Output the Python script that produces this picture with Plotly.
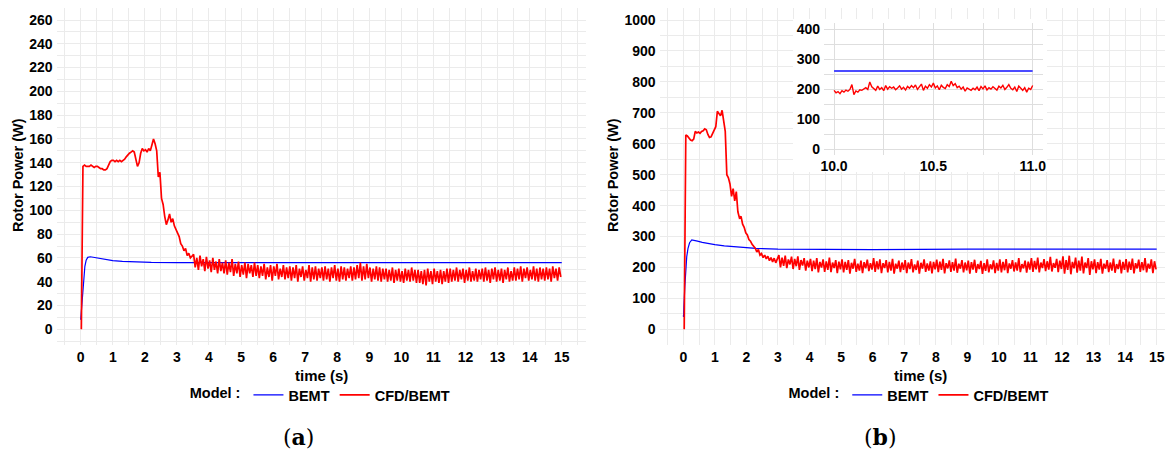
import numpy as np
import plotly.graph_objects as go

# ---------------- Panel (a) ----------------
bemt_a_t = [0, 0.03, 0.06, 0.09, 0.13, 0.17, 0.22, 0.3, 0.4, 0.6, 0.8, 1.0, 1.3, 1.7, 2.2, 3, 5, 10, 15]
bemt_a_p = [8, 20, 34, 44, 53, 58, 60.5, 61, 60.5, 59.3, 58.4, 57.7, 57.1, 56.6, 56.3, 56.1, 56, 56, 56]

cfd_a_t0 = 0.02
cfd_a_dt = 0.05
cfd_a_p = [
    0, 137, 138, 137, 137, 137, 138, 137, 136, 137,
    137, 136, 135, 135, 134, 134, 135, 138, 141, 142,
    142, 141, 142, 141, 142, 141, 142, 143, 145, 147,
    148, 149, 150, 149, 143, 137, 140, 148, 152, 150,
    151, 149, 152, 150, 155, 160, 156, 150, 128, 132,
    110, 105, 95, 88, 92, 97, 90, 93, 87, 84,
    80, 78, 72, 70, 66, 68, 62, 64, 60, 62,
    63, 52, 60, 50, 62, 53, 59, 49, 61, 51, 58, 48, 60, 50, 57, 47, 59, 49, 56, 47,
    58, 46, 56, 48, 59, 45, 55, 47, 57, 44, 54, 46, 56, 43, 55, 47, 54, 44, 56, 45,
    54, 43, 53, 45, 55, 42, 52, 44, 54, 41, 53, 45, 55, 42, 51, 44, 54, 42, 52, 43,
    53, 41, 52, 43, 54, 40, 51, 44, 53, 41, 50, 43, 54, 40, 52, 42, 53, 41, 51, 43,
    52, 41, 53, 42, 51, 40, 52, 43, 54, 41, 51, 40, 53, 42, 52, 41, 51, 43, 53, 41,
    52, 42, 54, 43, 56, 41, 53, 42, 55, 43, 52, 40, 51, 42, 53, 41, 52, 40, 51, 42,
    51, 40, 50, 41, 52, 39, 50, 41, 51, 40, 49, 39, 51, 41, 50, 40, 52, 41, 50, 39,
    50, 39, 49, 38, 50, 37, 51, 40, 49, 38, 51, 40, 49, 39, 50, 38, 49, 40, 51, 39,
    51, 40, 50, 41, 52, 40, 50, 42, 51, 39, 50, 41, 52, 40, 49, 41, 51, 40, 50, 42,
    51, 40, 52, 41, 50, 39, 51, 42, 52, 40, 50, 41, 51, 39, 50, 42, 52, 40, 49, 41,
    52, 41, 51, 42, 53, 40, 51, 43, 52, 41, 50, 42, 53, 41, 51, 40, 52, 42, 51, 41,
    52, 42, 51, 40, 53, 43, 51, 41, 52, 44,
]

# ---------------- Panel (b) ----------------
bemt_b_t = [0, 0.005, 0.01, 0.015, 0.02, 0.05, 0.08, 0.11, 0.15, 0.2, 0.27, 0.35, 0.45, 0.6,
            0.8, 1.0, 1.3, 1.8, 2.3, 3.0, 4.0, 6.0, 9.0, 12.0, 15.0]
bemt_b_p = [45, 72, 40, 70, 75, 140, 200, 235, 262, 280, 289, 288, 285, 281,
            277, 274, 270, 265, 262, 259, 258, 258, 259, 259, 259]

cfd_b_t0 = 0.03
cfd_b_dt = 0.05
cfd_b_p = [
    0, 628, 625, 618, 612, 610, 615, 640, 635, 638,
    634, 640, 642, 648, 645, 630, 620, 622, 632, 640,
    655, 705, 698, 690, 708, 670, 640, 500, 490, 470,
    430, 455, 415, 445, 380, 360, 365, 340, 330, 312,
    305, 290, 285, 275, 268, 262, 250, 258, 240, 245,
    232, 240, 228, 236, 222, 232, 218, 230, 215, 228,
    240, 200, 232, 205, 238, 198, 226, 210, 235, 195, 228, 204, 236, 192, 224, 206, 230, 190, 222, 200,
    228, 188, 222, 195, 230, 184, 218, 200, 226, 186, 220, 192, 232, 185, 216, 198, 224, 182, 219, 194,
    226, 184, 218, 192, 224, 180, 215, 196, 228, 186, 212, 190, 222, 182, 217, 197, 225, 188, 214, 193,
    230, 186, 220, 194, 226, 182, 214, 198, 224, 184, 218, 190, 228, 180, 212, 196, 222, 185, 216, 192,
    224, 182, 216, 195, 227, 184, 210, 192, 222, 180, 215, 196, 226, 186, 213, 190, 220, 181, 218, 194,
    225, 185, 219, 192, 228, 181, 214, 197, 223, 186, 217, 190, 229, 183, 212, 196, 224, 184, 216, 191,
    222, 180, 217, 193, 225, 183, 211, 195, 221, 179, 214, 189, 226, 184, 210, 194, 223, 182, 215, 190,
    226, 184, 218, 191, 227, 182, 213, 196, 224, 187, 216, 190, 230, 185, 211, 197, 222, 183, 219, 193,
    230, 186, 221, 194, 232, 184, 216, 198, 227, 188, 220, 193, 234, 187, 214, 199, 228, 185, 222, 195,
    236, 180, 224, 192, 238, 178, 218, 197, 232, 183, 222, 190, 235, 181, 216, 198, 230, 176, 220, 194,
    226, 182, 217, 193, 228, 180, 212, 196, 224, 185, 216, 190, 229, 183, 211, 195, 225, 181, 218, 192,
    227, 184, 219, 192, 229, 181, 214, 197, 225, 186, 217, 191, 230, 184, 212, 196, 226, 182, 220, 194,
]

# ---------------- Inset of (b): 10 s to 11 s ----------------
inset_bemt_t = [10.0, 11.0]
inset_bemt_p = [260, 260]
inset_cfd_t0 = 10.0
inset_cfd_dt = 0.01
inset_cfd_p = [
    196, 188, 192, 185, 195, 190, 197, 193, 199, 215,
    182, 194, 190, 198, 196, 200, 205, 199, 224, 208,
    202, 196, 210, 199, 205, 195, 212, 200, 208, 203,
    207, 198, 204, 211, 200, 206, 197, 209, 203, 212,
    205, 214, 199, 208, 217, 196, 210, 203, 215, 207,
    220, 204, 211, 198, 213, 206, 202, 215, 209, 226,
    212, 218, 205, 210, 200, 207, 193, 204, 199, 196,
    203, 198, 207, 195, 209, 201, 211, 197, 205, 200,
    208, 202, 197, 210, 204, 213, 199, 206, 215, 203,
    198, 207, 192, 210, 201, 196, 205, 190, 203, 199,
    212,
]

x_ticks_main = list(range(0, 16))
inset_x_ticks = [10.0, 10.5, 11.0]

cfd_a_t = cfd_a_t0 + cfd_a_dt * np.arange(len(cfd_a_p))
cfd_b_t = cfd_b_t0 + cfd_b_dt * np.arange(len(cfd_b_p))
inset_cfd_t = inset_cfd_t0 + inset_cfd_dt * np.arange(len(inset_cfd_p))

BLUE = "#0000FF"
RED = "#FF0000"
GRID = "#EBEBEB"
IGRID = "#DEDEDE"
FONT = "Liberation Sans, Arial, sans-serif"

# The page places the figure 8 px from the top-left corner of the window,
# so the figure is 8 px smaller and screen positions are converted below.
OFF = 8
W, H = 1173 - OFF, 453 - OFF

def px(sx):
    return (sx - OFF) / W

def py(sy):
    return 1 - (sy - OFF) / H

def tf(size=14):
    return dict(family=FONT, size=size, color="black", weight="bold")

fig = go.Figure()

# panel (a)
fig.add_trace(go.Scatter(x=bemt_a_t, y=bemt_a_p, mode="lines", name="BEMT",
                         line=dict(color=BLUE, width=1.2), xaxis="x", yaxis="y", legend="legend"))
fig.add_trace(go.Scatter(x=cfd_a_t, y=cfd_a_p, mode="lines", name="CFD/BEMT",
                         line=dict(color=RED, width=1.7), xaxis="x", yaxis="y", legend="legend"))
# panel (b)
fig.add_trace(go.Scatter(x=bemt_b_t, y=bemt_b_p, mode="lines", name="BEMT",
                         line=dict(color=BLUE, width=1.2), xaxis="x2", yaxis="y2", legend="legend2"))
fig.add_trace(go.Scatter(x=cfd_b_t, y=cfd_b_p, mode="lines", name="CFD/BEMT",
                         line=dict(color=RED, width=1.7), xaxis="x2", yaxis="y2", legend="legend2"))
# inset
fig.add_trace(go.Scatter(x=inset_bemt_t, y=inset_bemt_p, mode="lines", showlegend=False,
                         line=dict(color="#4B4BFF", width=2), xaxis="x3", yaxis="y3"))
fig.add_trace(go.Scatter(x=inset_cfd_t, y=inset_cfd_p, mode="lines", showlegend=False,
                         line=dict(color=RED, width=1.4), xaxis="x3", yaxis="y3"))

def xax(domain, rng, anchor):
    return dict(domain=domain, range=rng, anchor=anchor, tickmode="array", tickvals=x_ticks_main,
                showgrid=True, gridcolor=GRID, gridwidth=1.3, zeroline=False, showline=False,
                ticks="", tickfont=tf(14), ticklabelstandoff=2, automargin=False,
                minor=dict(dtick=0.5, tick0=0, showgrid=True, gridcolor=GRID, gridwidth=1.3))

def yax(domain, rng, anchor, dtick):
    return dict(domain=domain, range=rng, anchor=anchor, tickmode="linear", tick0=0, dtick=dtick,
                showgrid=True, gridcolor=GRID, gridwidth=1.3, zeroline=False, showline=False,
                ticks="", tickfont=tf(14), ticklabelstandoff=3, automargin=False,
                minor=dict(dtick=dtick / 2, tick0=0, showgrid=True, gridcolor=GRID, gridwidth=1.3))

# panel top cannot go above the figure's top edge (screen y = 8)
ydom = [py(344.8), 1.0]
ya_top = (329.3 - OFF) / 1.1896
yb_top = (329.3 - OFF) / 0.3093

legend_common = dict(orientation="h", xanchor="center", y=py(395), yanchor="middle",
                     title=dict(text="Model :", side="left", font=tf(14.5)), font=tf(14.5),
                     bgcolor="rgba(0,0,0,0)", itemwidth=30, tracegroupgap=0)
fig.update_layout(
    width=W, height=H, margin=dict(l=0, r=0, t=0, b=0, autoexpand=False),
    paper_bgcolor="white", plot_bgcolor="white",
    xaxis=xax([px(56.65), px(585.8)], [-0.75, 15.75], "y"),
    yaxis=yax(ydom, [-13, ya_top], "x", 20),
    xaxis2=xax([px(659.6), 1.0], [-0.75, (1173 - 683.3) / 31.56], "y2"),
    yaxis2=yax(ydom, [-50, yb_top], "x2", 100),
    xaxis3=dict(domain=[px(824.1), px(1042.6)], range=[9.95, 11.05], anchor="y3",
                tickmode="array", tickvals=inset_x_ticks, tickformat=".1f",
                showgrid=True, gridcolor=IGRID, gridwidth=1.3, zeroline=False, showline=False,
                ticks="", tickfont=tf(14), ticklabelstandoff=1, automargin=False,
                minor=dict(dtick=0.25, tick0=10, showgrid=True, gridcolor=IGRID, gridwidth=1.3)),
    yaxis3=dict(domain=[py(155.3), py(23)], range=[-20, 420], anchor="x3",
                tickmode="linear", tick0=0, dtick=100,
                showgrid=True, gridcolor=IGRID, gridwidth=1.3, zeroline=False, showline=False,
                ticks="", tickfont=tf(14), ticklabelstandoff=3, automargin=False,
                minor=dict(dtick=50, tick0=0, showgrid=True, gridcolor=IGRID, gridwidth=1.3)),
    legend=dict(x=px(321.7), **legend_common),
    legend2=dict(x=px(920.5), **legend_common),
    showlegend=True,
)

# white background box behind the inset (covers main grid), in panel (b) data units
def sx_to_x2(sx):
    return (sx - 683.3) / 31.56

def sy_to_y2(sy):
    return (329.3 - sy) / 0.3093

fig.add_shape(type="rect", xref="x2", yref="y2", layer="between",
              x0=sx_to_x2(793), x1=sx_to_x2(1047), y0=sy_to_y2(172), y1=sy_to_y2(19),
              fillcolor="white", line=dict(width=0))

# axis titles
for xc in [18, 613]:
    fig.add_annotation(text="Rotor Power (W)", x=px(xc), y=py(175), xref="paper", yref="paper",
                       xanchor="center", yanchor="middle", textangle=-90, showarrow=False,
                       font=tf(14.5))
for xc in [321.2, 920.0]:
    fig.add_annotation(text="time (s)", x=px(xc), y=py(375), xref="paper", yref="paper",
                       xanchor="center", yanchor="middle", showarrow=False, font=tf(15))

# captions
for xc, lab in [(298, "a"), (880, "b")]:
    fig.add_annotation(text="(<b>" + lab + "</b>)", x=px(xc), y=py(437), xref="paper",
                       yref="paper", xanchor="center", yanchor="middle", showarrow=False,
                       font=dict(family="DejaVu Serif", size=22, color="black"))

fig.write_html("out.html")
